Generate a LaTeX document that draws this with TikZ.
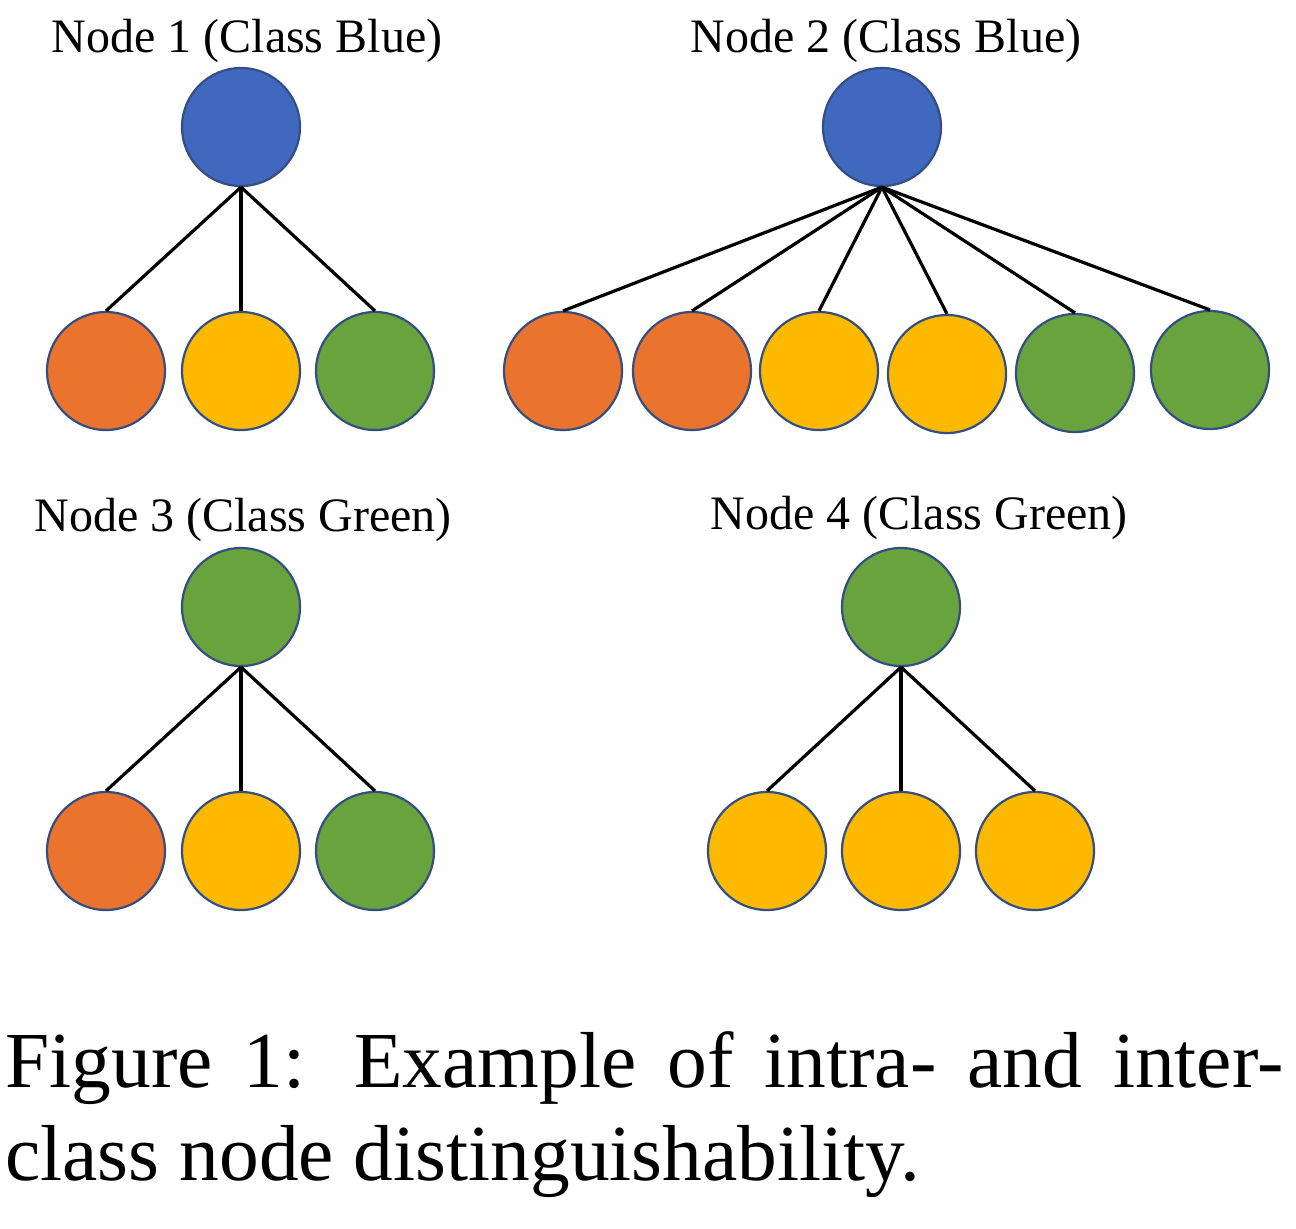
\documentclass[tikz,border=0pt]{standalone}
\usepackage{fontspec}
\setmainfont{Liberation Serif}
\definecolor{cblue}{RGB}{64,104,190}
\definecolor{corange}{RGB}{234,115,46}
\definecolor{cyellow}{RGB}{253,184,0}
\definecolor{cgreen}{RGB}{104,163,62}
\definecolor{cline}{RGB}{52,78,130}
\begin{document}
\begin{tikzpicture}[x=0.5pt,y=-0.5pt,
  vert/.style={circle,draw=cline,line width=1.1pt,minimum size=59pt,inner sep=0pt},
  edge/.style={line width=1.6pt,black},
  lab/.style={anchor=base,inner sep=0pt,font=\fontsize{24}{28}\selectfont},
  captext/.style={anchor=base west,inner sep=0pt,font=\fontsize{39.7}{46}\selectfont}]
\useasboundingbox (0,0) rectangle (1296,1228);
% Node 1
\node[lab] (l1) at (247,52) {Node 1 (Class Blue)};
\node[vert,fill=cblue] (r1) at (241,127) {};
\node[vert,fill=corange] (a1) at (106,371) {};
\node[vert,fill=cyellow] (a2) at (241,371) {};
\node[vert,fill=cgreen] (a3) at (375,371) {};
\foreach \c in {a1,a2,a3} \draw[edge] (r1.south) -- (\c.north);
% Node 2
\node[lab] (l2) at (886,52) {Node 2 (Class Blue)};
\node[vert,fill=cblue] (r2) at (882,127) {};
\node[vert,fill=corange] (b1) at (563,371) {};
\node[vert,fill=corange] (b2) at (692,371) {};
\node[vert,fill=cyellow] (b3) at (819,371) {};
\node[vert,fill=cyellow] (b4) at (947,374) {};
\node[vert,fill=cgreen] (b5) at (1075,373) {};
\node[vert,fill=cgreen] (b6) at (1210,370) {};
\foreach \c in {b1,b2,b3,b4,b5,b6} \draw[edge] (r2.south) -- (\c.north);
% Node 3
\node[lab] (l3) at (243,531) {Node 3 (Class Green)};
\node[vert,fill=cgreen] (r3) at (241,607) {};
\node[vert,fill=corange] (c1) at (106,851) {};
\node[vert,fill=cyellow] (c2) at (241,851) {};
\node[vert,fill=cgreen] (c3) at (375,851) {};
\foreach \c in {c1,c2,c3} \draw[edge] (r3.south) -- (\c.north);
% Node 4
\node[lab] (l4) at (919,529) {Node 4 (Class Green)};
\node[vert,fill=cgreen] (r4) at (901,607) {};
\node[vert,fill=cyellow] (d1) at (767,851) {};
\node[vert,fill=cyellow] (d2) at (901,851) {};
\node[vert,fill=cyellow] (d3) at (1035,851) {};
\foreach \c in {d1,d2,d3} \draw[edge] (r4.south) -- (\c.north);
% Caption
\node[captext] (cap1) at (5,1087) {\makebox[639pt][s]{Figure 1: Example of intra- and inter-}};
\node[captext] (cap2) at (5,1180) {class node distinguishability.};
\end{tikzpicture}
\end{document}
